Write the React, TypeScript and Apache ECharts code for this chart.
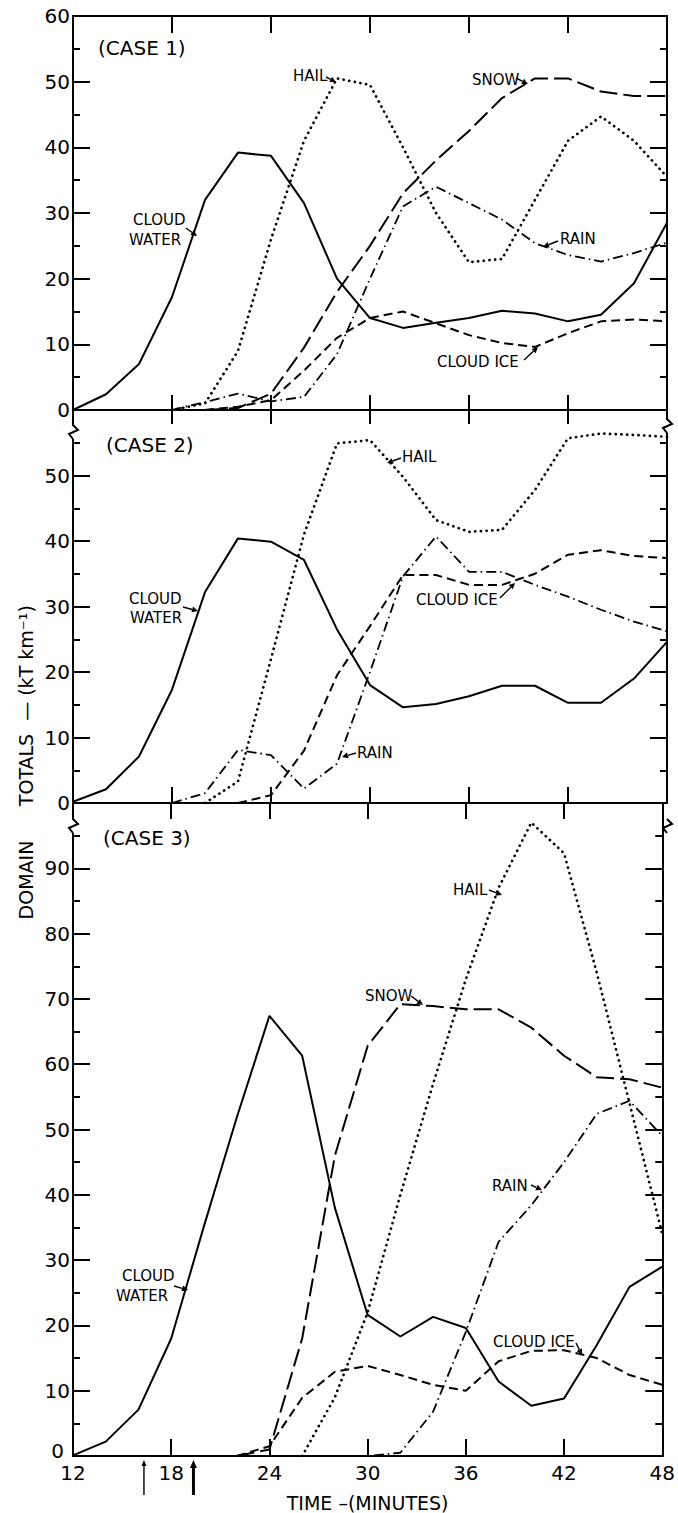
import React, { useEffect, useRef } from "react";
import * as echarts from "echarts";

// Time axis (minutes) and domain totals (kT km^-1) for the three cases
const TIMES = [12, 14, 16, 18, 20, 22, 24, 26, 28, 30, 32, 34, 36, 38, 40, 42, 44, 46, 48];

const c1CloudWater = [0, 2.4, 7, 17.2, 32, 39.2, 38.7, 31.5, 20, 14, 12.5, 13.3, 14, 15.1, 14.7, 13.5, 14.5, 19.3, 28.5];
const c1Hail = [null, null, null, 0, 1, 9, 26, 41, 50.5, 49.5, 40, 30, 22.5, 23, 32, 41, 44.7, 41, 35.5];
const c1Snow = [null, null, null, null, 0, 0.3, 2.5, 9.5, 18, 25, 33, 38, 42.5, 47.5, 50.5, 50.5, 48.5, 47.8, 47.8];
const c1Rain = [null, null, null, 0, 1.2, 2.5, 1.3, 2, 8.5, 20, 31, 34, 31.5, 29, 25.4, 23.6, 22.6, 23.9, 25.5];
const c1CloudIce = [null, null, null, null, 0, 0.5, 1.5, 6, 11, 14, 15, 13.2, 11.4, 10.2, 9.6, 11.7, 13.5, 13.8, 13.5];

const c2CloudWater = [0.2, 2.1, 7.1, 17.3, 32.2, 40.4, 39.9, 37.1, 26.5, 18, 14.6, 15.1, 16.3, 17.9, 17.9, 15.3, 15.3, 19, 24.6];
const c2Hail = [null, null, null, null, 0, 3.3, 22, 41, 54.9, 55.4, 49.8, 43.2, 41.4, 41.7, 47.8, 55.7, 56.4, 56.2, 55.9];
const c2Rain = [null, null, null, 0, 1.5, 8.1, 7.3, 2.2, 6, 20, 34.6, 40.7, 35.3, 35.3, 33.3, 31.5, 29.5, 27.7, 26.2];
const c2CloudIce = [null, null, null, null, null, 0, 1.2, 8, 19.5, 27, 34.8, 34.8, 33.3, 33.3, 35, 37.9, 38.6, 37.7, 37.4];

const c3CloudWater = [0.1, 2.2, 7.1, 18, 35.2, 51.8, 67.4, 61.3, 38, 21.6, 18.3, 21.3, 19.6, 11.4, 7.7, 8.8, 17, 25.9, 29];
const c3Hail = [null, null, null, null, null, null, null, 0, 9, 22, 40, 57, 73, 87, 97, 92.3, 74, 54, 34];
const c3Snow = [null, null, null, null, null, 0, 1, 18, 46, 62.8, 69.2, 68.9, 68.4, 68.4, 65.6, 61.3, 58, 57.7, 56.4];
const c3Rain = [null, null, null, null, null, null, null, null, 0, 0, 0.5, 6.8, 19, 32.8, 38.4, 45, 52.4, 54.4, 49];
const c3CloudIce = [null, null, null, null, null, 0, 1.5, 8.9, 12.9, 13.8, 12.4, 10.9, 10, 14.5, 16.1, 16.2, 15, 12.4, 10.9];

const PANEL_MAX = [60, 60, 100];
const ARROW_TIMES = [16.3, 19.3];

const FONT = '"DejaVu Sans", sans-serif';

// Plot layout (pixels)
const LEFT = 73;
const RIGHT = 11;
const W = 678;
const H = 1513;
const PANELS = [
  { top: 16, height: 394 },
  { top: 410, height: 393 },
  { top: 803, height: 655 },
];

const LINE_STYLES: Record<string, any> = {
  cloudWater: { type: "solid", width: 2 },
  hail: { type: [0.1, 5.6], width: 2.7, cap: "round" },
  snow: { type: [18, 6], width: 2 },
  rain: { type: [10, 4, 1.5, 4], width: 1.8 },
  cloudIce: { type: [9, 5], width: 2 },
};

const xPx = (t: number) => LEFT + ((t - 12) / 36) * (W - LEFT - RIGHT);

function arrow(x1: number, y1: number, x2: number, y2: number, w = 1.4, L = 6, hw = 3) {
  const a = Math.atan2(y2 - y1, x2 - x1);
  const bx = x2 - L * Math.cos(a);
  const by = y2 - L * Math.sin(a);
  const px = -Math.sin(a) * hw;
  const py = Math.cos(a) * hw;
  return [
    { type: "line", z: 100, shape: { x1, y1, x2: bx, y2: by }, style: { stroke: "#000", lineWidth: w } },
    {
      type: "polygon",
      z: 100,
      shape: { points: [[x2, y2], [bx + px, by + py], [bx - px, by - py]] },
      style: { fill: "#000" },
    },
  ];
}

function txt(text: string, x: number, y: number, size = 15) {
  return {
    type: "text",
    x,
    y,
    z: 100,
    style: { text, fontSize: size, fontFamily: FONT, fill: "#000", align: "left", verticalAlign: "middle" },
  };
}

function vtxt(text: string, x: number, y: number) {
  return {
    type: "text",
    x,
    y,
    rotation: Math.PI / 2,
    z: 100,
    style: { text, fontSize: 19, fontFamily: FONT, fill: "#000", align: "center", verticalAlign: "middle" },
  };
}

function zigzag(x: number, y: number) {
  return [
    { type: "rect", z: 99, shape: { x: x - 2, y: y - 7, width: 4, height: 13 }, style: { fill: "#fff" } },
    {
      type: "polyline",
      z: 100,
      shape: { points: [[x, y - 8], [x + 5, y - 3], [x - 4, y + 1], [x, y + 6]] },
      style: { stroke: "#000", lineWidth: 2, fill: null },
    },
  ];
}

export default function App() {
  const ref = useRef<HTMLDivElement>(null);

  useEffect(() => {
    if (!ref.current) return;
    const chart = echarts.init(ref.current, null, { renderer: "svg" });

    const black = { color: "#000", width: 2 };

    const grids = PANELS.map((p) => ({
      left: LEFT,
      right: RIGHT,
      top: p.top,
      height: p.height,
      containLabel: false,
    }));

    const xAxis = (gridIndex: number, position: string, tickLen: number, labels: boolean) => ({
      type: "value",
      gridIndex,
      position,
      min: 12,
      max: 48,
      interval: 6,
      axisLine: { show: true, onZero: false, lineStyle: black },
      axisTick: { show: true, inside: true, length: tickLen, lineStyle: black },
      splitLine: { show: false },
      axisLabel: {
        show: labels,
        fontSize: 20,
        fontFamily: FONT,
        color: "#000",
        margin: 7,
      },
      name: labels ? "TIME –(MINUTES)" : "",
      nameLocation: "middle",
      nameGap: 37,
      nameTextStyle: { fontSize: 19, fontFamily: FONT, color: "#000" },
    });

    const yAxis = (gridIndex: number, position: string, labels: boolean) => {
      const max = PANEL_MAX[gridIndex];
      return {
        type: "value",
        gridIndex,
        position,
        min: 0,
        max,
        interval: 10,
        axisLine: { show: true, onZero: false, lineStyle: black },
        axisTick: { show: true, inside: true, length: 17, lineStyle: black },
        minorTick: { show: true, splitNumber: 2, length: 7, lineStyle: black },
        splitLine: { show: false },
        minorSplitLine: { show: false },
        axisLabel: {
          show: labels,
          fontSize: 20,
          fontFamily: FONT,
          color: "#000",
          margin: 3,
          formatter: (v: number) => {
            if (gridIndex > 0 && v === max) return "";
            if (gridIndex === 2 && v === 0) return "{lift|0}";
            return String(v);
          },
          rich: {
            lift: { fontSize: 20, fontFamily: FONT, color: "#000", padding: [0, 6, 10, 0] },
          },
        },
      };
    };

    const cases = [
      [
        ["cloudWater", c1CloudWater],
        ["hail", c1Hail],
        ["snow", c1Snow],
        ["rain", c1Rain],
        ["cloudIce", c1CloudIce],
      ],
      [
        ["cloudWater", c2CloudWater],
        ["hail", c2Hail],
        ["rain", c2Rain],
        ["cloudIce", c2CloudIce],
      ],
      [
        ["cloudWater", c3CloudWater],
        ["hail", c3Hail],
        ["snow", c3Snow],
        ["rain", c3Rain],
        ["cloudIce", c3CloudIce],
      ],
    ] as [string, (number | null)[]][][];

    const series: any[] = [];
    cases.forEach((list, p) => {
      list.forEach(([kind, vals]) => {
        series.push({
          type: "line",
          name: `${kind}-${p + 1}`,
          xAxisIndex: p,
          yAxisIndex: p,
          data: TIMES.map((t, i) => [t, vals[i]]).filter((d) => d[1] !== null),
          showSymbol: false,
          symbol: "none",
          silent: true,
          lineStyle: { color: "#000", ...LINE_STYLES[kind] },
        });
      });
    });

    const graphic: any[] = [
      // case labels
      txt("(CASE 1)", 98, 48, 20),
      txt("(CASE 2)", 106, 445, 20),
      txt("(CASE 3)", 103, 838, 20),

      // case 1 annotations
      txt("HAIL", 293, 76),
      ...arrow(326, 77, 336, 82),
      txt("CLOUD", 133, 220),
      txt("WATER", 129, 240),
      ...arrow(186, 228, 197, 236),
      txt("SNOW", 472, 80),
      ...arrow(516, 78, 528, 84),
      txt("RAIN", 560, 239),
      ...arrow(558, 241, 543, 247),
      txt("CLOUD ICE", 437, 362),
      ...arrow(524, 360, 538, 347),

      // case 2 annotations
      txt("HAIL", 402, 457),
      ...arrow(401, 458, 387, 463),
      txt("CLOUD", 129, 599),
      txt("WATER", 130, 618),
      ...arrow(183, 607, 198, 611),
      txt("CLOUD ICE", 416, 600),
      ...arrow(500, 598, 515, 583),
      txt("RAIN", 357, 753),
      ...arrow(356, 753, 342, 757),

      // case 3 annotations
      txt("HAIL", 453, 890),
      ...arrow(489, 890, 502, 895),
      txt("SNOW", 365, 996),
      ...arrow(411, 996, 423, 1005),
      txt("RAIN", 492, 1186),
      ...arrow(531, 1185, 542, 1190),
      txt("CLOUD ICE", 493, 1342),
      ...arrow(576, 1343, 582, 1355),
      txt("CLOUD", 122, 1276),
      txt("WATER", 116, 1296),
      ...arrow(174, 1286, 188, 1290),

      // axis breaks
      ...zigzag(LEFT, 433),
      ...zigzag(W - RIGHT, 427),
      ...zigzag(LEFT, 827),
      ...zigzag(W - RIGHT, 827),

      // y-axis title, reading upward
      vtxt("DOMAIN", 26, 880),
      vtxt("TOTALS", 26, 770),
      vtxt("— (kT km⁻¹)", 26, 663),
    ];

    // time markers below the axis
    ARROW_TIMES.forEach((t, i) => {
      const x = xPx(t);
      graphic.push(...arrow(x, 1495, x, 1460, i === 0 ? 1.4 : 3, i === 0 ? 6 : 8, i === 0 ? 2.5 : 3.5));
    });

    chart.setOption({
      animation: false,
      backgroundColor: "#fff",
      grid: grids,
      xAxis: [
        xAxis(0, "bottom", 15, false),
        xAxis(1, "bottom", 16, false),
        xAxis(2, "bottom", 17, true),
        xAxis(0, "top", 17, false),
        xAxis(1, "top", 14, false),
        xAxis(2, "top", 16, false),
      ],
      yAxis: [
        yAxis(0, "left", true),
        yAxis(1, "left", true),
        yAxis(2, "left", true),
        yAxis(0, "right", false),
        yAxis(1, "right", false),
        yAxis(2, "right", false),
      ],
      series,
      graphic,
    });

    return () => chart.dispose();
  }, []);

  return (
    <div
      ref={ref}
      style={{ position: "absolute", left: 0, top: 0, width: W, height: H, background: "#fff" }}
    />
  );
}
